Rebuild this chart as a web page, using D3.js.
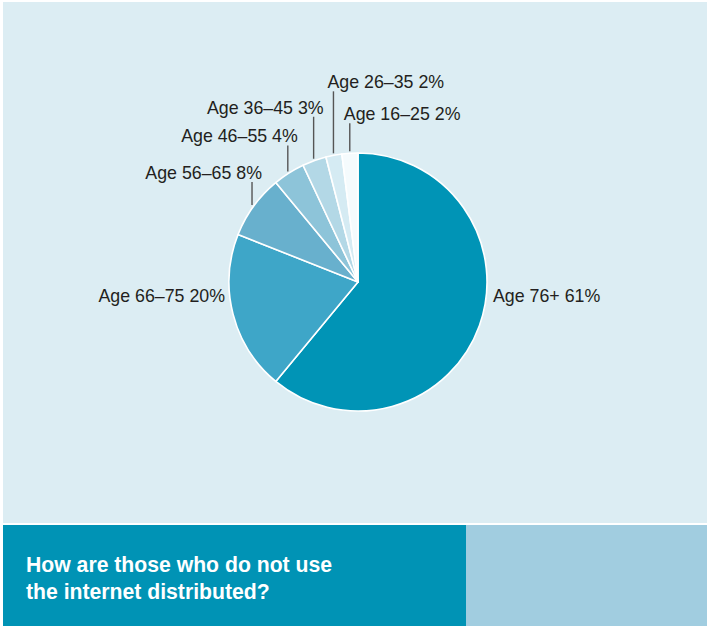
<!DOCTYPE html>
<html>
<head>
<meta charset="utf-8">
<script src="https://cdn.jsdelivr.net/npm/d3@7/dist/d3.min.js"></script>
<style>
  html, body { margin: 0; padding: 0; background: #ffffff; }
  svg { display: block; }
  text { font-family: "Liberation Sans", Arial, Helvetica, sans-serif; }
</style>
</head>
<body>
<svg id="chart" width="707" height="626"></svg>
<script>
// ---- data ----
const categories = ["Age 76+", "Age 66\u201375", "Age 56\u201365", "Age 46\u201355", "Age 36\u201345", "Age 26\u201335", "Age 16\u201325"];
const values = [61, 20, 8, 4, 3, 2, 2];
const sliceColors = ["#0094b6", "#3ea6c8", "#68b0cd", "#8dc4d9", "#b3d8e6", "#d5ebf3", "#f5fbfd"];
// label placement style: "side" labels sit beside the pie, "leader" labels use a vertical leader line
const labelKinds = ["right", "left", "leaderLeft", "leaderLeft", "leaderLeft", "leaderRight", "leaderRight"];
const leaderLengths = [0, 0, 23, 26, 42, 62, 28];
const titleLines = ["How are those who do not use", "the internet distributed?"];

// ---- layout ----
const W = 707, H = 626;
const cx = 358, cy = 282, R = 129;

const svg = d3.select("#chart");

// background panels
svg.append("rect").attr("x", 3).attr("y", 2).attr("width", W - 3).attr("height", 521).attr("fill", "#dcedf3");
svg.append("rect").attr("x", 3).attr("y", 525).attr("width", 463).attr("height", H - 525).attr("fill", "#0093b5");
svg.append("rect").attr("x", 466).attr("y", 525).attr("width", W - 466).attr("height", H - 525).attr("fill", "#a1cde0");

// title
const title = svg.append("text")
  .attr("x", 26).attr("y", 572)
  .attr("fill", "#ffffff")
  .attr("font-weight", "bold")
  .attr("font-size", "21.2px");
titleLines.forEach((t, i) => {
  title.append("tspan").attr("x", 26).attr("dy", i === 0 ? 0 : 26.5).text(t);
});

// pie
const data = categories.map((c, i) => ({ cat: c, value: values[i], color: sliceColors[i], kind: labelKinds[i], len: leaderLengths[i] }));
const pie = d3.pie().value(d => d.value).sort(null).startAngle(0).endAngle(2 * Math.PI);
const arcs = pie(data);
const arc = d3.arc().innerRadius(0).outerRadius(R);

const g = svg.append("g").attr("transform", `translate(${cx},${cy})`);
g.selectAll("path.slice")
  .data(arcs)
  .enter().append("path")
  .attr("class", "slice")
  .attr("d", arc)
  .attr("fill", d => d.data.color)
  .attr("stroke", "#ffffff")
  .attr("stroke-width", 1.6)
  .attr("stroke-linejoin", "round");

// labels
const labelColor = "#231f20";
const fs = "17.8px";
arcs.forEach(a => {
  const d = a.data;
  const txt = `${d.cat} ${d.value}%`;
  if (d.kind === "right") {
    g.append("text").attr("x", R + 6).attr("y", 20)
      .attr("font-size", fs).attr("fill", labelColor).attr("text-anchor", "start").text(txt);
  } else if (d.kind === "left") {
    g.append("text").attr("x", -R - 4).attr("y", 20)
      .attr("font-size", fs).attr("fill", labelColor).attr("text-anchor", "end").text(txt);
  } else {
    const mid = (a.startAngle + a.endAngle) / 2;
    const rr = R + 2;
    const x = rr * Math.sin(mid);
    const y0 = -rr * Math.cos(mid);
    const y1 = y0 - d.len;
    g.append("line")
      .attr("x1", x).attr("x2", x).attr("y1", y0).attr("y2", y1)
      .attr("stroke", "#555555").attr("stroke-width", 1.4);
    if (d.kind === "leaderLeft") {
      g.append("text").attr("x", x + 10).attr("y", y1 - 3)
        .attr("font-size", fs).attr("fill", labelColor).attr("text-anchor", "end").text(txt);
    } else {
      g.append("text").attr("x", x - 6).attr("y", y1 - 3)
        .attr("font-size", fs).attr("fill", labelColor).attr("text-anchor", "start").text(txt);
    }
  }
});
</script>
</body>
</html>
